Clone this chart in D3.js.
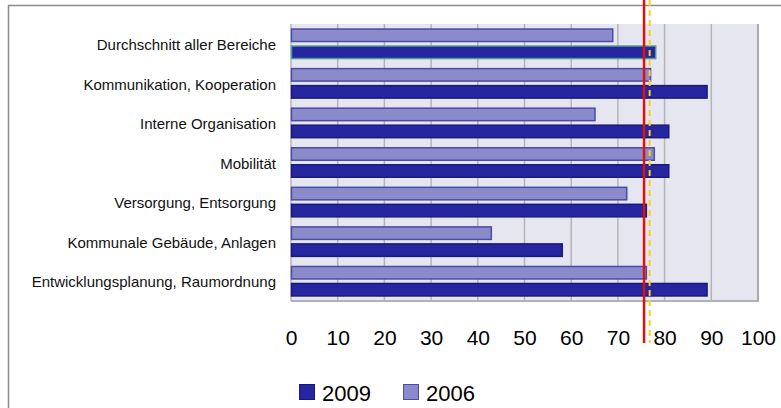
<!DOCTYPE html>
<html>
<head>
<meta charset="utf-8">
<script src="https://cdn.jsdelivr.net/npm/d3@7"></script>
<style>
  body { margin: 0; background: #fff; }
  svg { display: block; font-family: "Liberation Sans", Arial, sans-serif; }
</style>
</head>
<body>
<div id="chart"></div>
<script>
// data
const categories = [
  'Durchschnitt aller Bereiche',
  'Kommunikation, Kooperation',
  'Interne Organisation',
  'Mobilität',
  'Versorgung, Entsorgung',
  'Kommunale Gebäude, Anlagen',
  'Entwicklungsplanung, Raumordnung',
];
const series = ['2006', '2009'];
const values2009 = [78.2, 89.2, 81.0, 81.0, 76.2, 58.2, 89.2];
const values2006 = [69.0, 77.1, 65.2, 77.9, 72.0, 43.0, 76.2];
const xTicks = [0, 10, 20, 30, 40, 50, 60, 70, 80, 90, 100];
const redLineValue = 75.6;
const yellowLineValue = 76.8;

const width = 781;
const height = 408;
const plot = { left: 291, right: 758, top: 24, bottom: 301 };

const colors = {
  '2009': { fill: '#2626a0', stroke: '#1a1a7c' },
  '2006': { fill: '#8b8bcc', stroke: '#4b4ba8' },
};

const svg = d3.select('#chart')
  .append('svg')
  .attr('width', width)
  .attr('height', height);

// outer frame
svg.append('rect')
  .attr('x', 8.5)
  .attr('y', 5.5)
  .attr('width', width + 20)
  .attr('height', height + 20)
  .attr('fill', 'none')
  .attr('stroke', '#8c8c8c')
  .attr('stroke-width', 1.5);

const x = d3.scaleLinear().domain([0, 100]).range([plot.left, plot.right]);
const y = d3.scaleBand().domain(categories).range([plot.top, plot.bottom]);
const ySub = d3.scaleBand()
  .domain(series)
  .range([0, y.bandwidth()])
  .paddingInner(0.206)
  .paddingOuter(0.267);

// plot background
svg.append('rect')
  .attr('x', plot.left)
  .attr('y', plot.top)
  .attr('width', plot.right - plot.left)
  .attr('height', plot.bottom - plot.top)
  .attr('fill', '#e6e6f1');

// grid
svg.append('g')
  .selectAll('line')
  .data(xTicks)
  .enter()
  .append('line')
  .attr('x1', d => x(d))
  .attr('x2', d => x(d))
  .attr('y1', plot.top)
  .attr('y2', plot.bottom)
  .attr('stroke', d => (d === 100 ? '#a8a8b0' : '#b4b4b8'))
  .attr('stroke-width', d => (d === 100 ? 2 : 1.5));

svg.append('line')
  .attr('x1', plot.left)
  .attr('x2', plot.right + 1)
  .attr('y1', plot.bottom)
  .attr('y2', plot.bottom)
  .attr('stroke', '#b0b0b6')
  .attr('stroke-width', 2);

// bars
const rows = categories.map((c, i) => ({ cat: c, '2009': values2009[i], '2006': values2006[i] }));

const rowG = svg.append('g')
  .selectAll('g')
  .data(rows)
  .enter()
  .append('g')
  .attr('transform', d => `translate(0, ${y(d.cat)})`);

rowG.selectAll('rect')
  .data(d => series.map(s => ({ key: s, value: d[s], cat: d.cat })))
  .enter()
  .append('rect')
  .attr('x', x(0) + 0.5)
  .attr('y', d => ySub(d.key) + 0.5)
  .attr('width', d => x(d.value) - x(0) - 1)
  .attr('height', ySub.bandwidth() - 1)
  .attr('fill', d => colors[d.key].fill)
  .attr('stroke', d => (d.key === '2009' && d.cat === categories[0] ? '#4f9a8c' : colors[d.key].stroke))
  .attr('stroke-width', 1.5);

// category labels
svg.append('g')
  .selectAll('text')
  .data(categories)
  .enter()
  .append('text')
  .attr('x', 276)
  .attr('y', d => y(d) + y.bandwidth() / 2 + 1)
  .attr('dy', '0.35em')
  .attr('text-anchor', 'end')
  .style('font-size', '15px')
  .attr('fill', '#111')
  .text(d => d);

// x axis labels
const xG = svg.append('g')
  .attr('transform', 'translate(0, 330)')
  .call(d3.axisBottom(x).tickValues(xTicks).tickSize(0).tickPadding(0));
xG.select('.domain').remove();
xG.selectAll('text')
  .style('font-size', '21px')
  .style('font-family', '"Liberation Sans", Arial, sans-serif')
  .attr('fill', '#000');

// reference lines
svg.append('line')
  .attr('x1', x(redLineValue))
  .attr('x2', x(redLineValue))
  .attr('y1', 0)
  .attr('y2', 343)
  .attr('stroke', '#e01010')
  .attr('stroke-width', 2.5);

svg.append('line')
  .attr('x1', x(yellowLineValue))
  .attr('x2', x(yellowLineValue))
  .attr('y1', 0)
  .attr('y2', 343)
  .attr('stroke', '#ffcc22')
  .attr('stroke-width', 2)
  .attr('stroke-dasharray', '6,4');

// legend
const legendItems = [
  { key: '2009', x: 299 },
  { key: '2006', x: 403 },
];
const legendG = svg.append('g')
  .selectAll('g')
  .data(legendItems)
  .enter()
  .append('g')
  .attr('transform', d => `translate(${d.x}, 384)`);

legendG.append('rect')
  .attr('x', 0.5)
  .attr('y', 0.5)
  .attr('width', 15)
  .attr('height', 15)
  .attr('fill', d => colors[d.key].fill)
  .attr('stroke', d => colors[d.key].stroke);

legendG.append('text')
  .attr('x', 23)
  .attr('y', 17)
  .style('font-size', '22px')
  .attr('fill', '#000')
  .text(d => d.key);
</script>
</body>
</html>
